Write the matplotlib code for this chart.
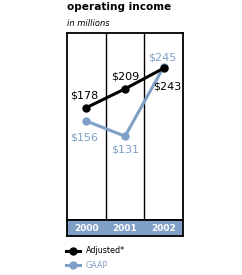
import matplotlib
matplotlib.use("Agg")
import matplotlib.pyplot as plt

years = ["2000", "2001", "2002"]
adjusted = [178, 209, 243]
gaap = [156, 131, 245]
adj_labels = ["$178", "$209", "$243"]
gaap_labels = ["$156", "$131", "$245"]

BLUE = "#7f9fc6"
plt.rcParams['font.family'] = ['DejaVu Sans']

fig = plt.figure(figsize=(2.42, 2.75), dpi=100)
W, H = 242, 275

def rect(l, t, r, b):
    return [l / W, 1 - b / H, (r - l) / W, (b - t) / H]

ax = fig.add_axes(rect(67, 33, 183, 220))
x = list(range(len(years)))
ax.set_xlim(-0.5, 2.5)
ax.set_ylim(-7, 301)
for xv in [0.5, 1.5]:
    ax.axvline(xv, color="black", lw=1.0)
ax.plot(x, gaap, color=BLUE, lw=2.2, marker="o", ms=5, zorder=3)
ax.plot(x, adjusted, color="black", lw=2.2, marker="o", ms=5, zorder=4)

adj_off = [(-2, 12), (0, 12.5), (4, -18.5)]
gaap_off = [(-2, -16.5), (0, -13.5), (-1.5, 10)]
for i in x:
    ax.annotate(adj_labels[i], (i, adjusted[i]), xytext=adj_off[i], textcoords="offset pixels",
                ha="center", va="center", fontsize=8, color="black")
    ax.annotate(gaap_labels[i], (i, gaap[i]), xytext=gaap_off[i], textcoords="offset pixels",
                ha="center", va="center", fontsize=8, color=BLUE)
ax.set_xticks([])
ax.set_yticks([])
for s in ax.spines.values():
    s.set_linewidth(1.3)

band = fig.add_axes(rect(67, 220, 183, 236))
band.set_facecolor(BLUE)
band.set_xlim(-0.5, 2.5)
band.set_ylim(0, 1)
band.set_xticks([])
band.set_yticks([])
for s in band.spines.values():
    s.set_linewidth(1.3)
for i, yr in enumerate(years):
    band.text(i, 0.45, yr, ha="center", va="center", color="white", fontsize=6.5, fontweight="bold")

fig.text(67 / W, 1 - 7.5 / H, "operating income", ha="left", va="center", fontsize=7.6, fontweight="bold")
fig.text(67 / W, 1 - 23 / H, "in millions", ha="left", va="center", fontsize=6, style="italic")

# legend
for yy, col, lab in [(250.5, "black", "Adjusted*"), (265, BLUE, "GAAP")]:
    fig.add_artist(plt.Line2D([66 / W, 80 / W], [1 - yy / H] * 2, color=col, lw=2.2))
    fig.add_artist(plt.Line2D([73 / W], [1 - yy / H], color=col, marker="o", ms=5))
    fig.text(86 / W, 1 - yy / H, lab, ha="left", va="center", fontsize=5.8, color=col)

fig.savefig("out.png", dpi=100)
